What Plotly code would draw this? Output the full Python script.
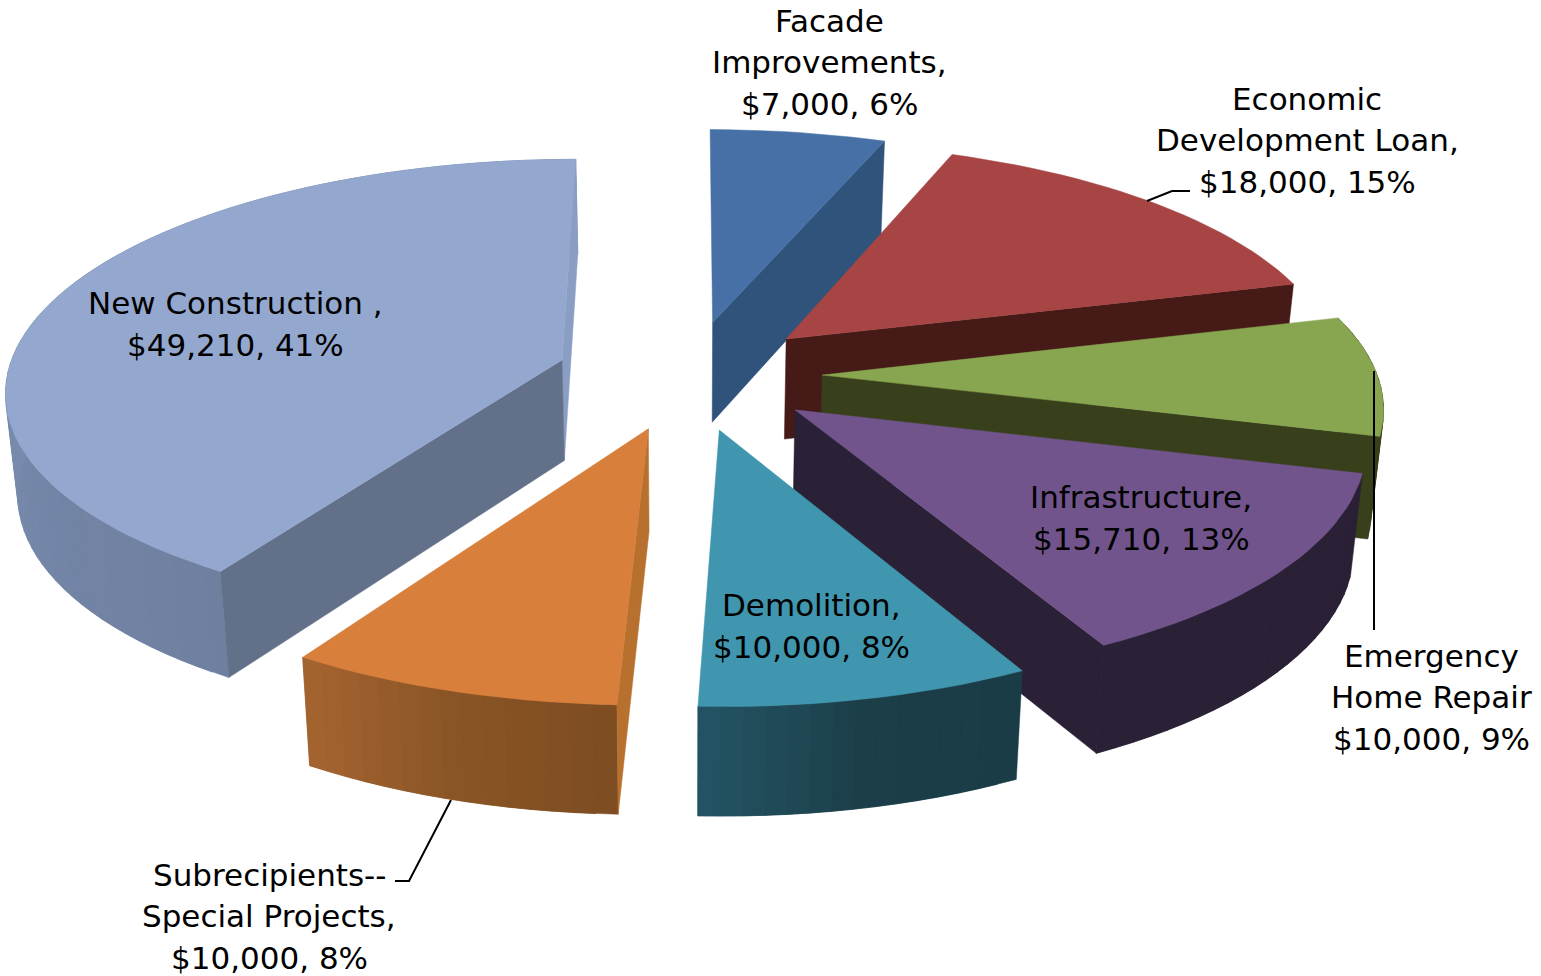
import math
import plotly.graph_objects as go

# ---- data ----
categories = ["Facade Improvements", "Economic Development Loan", "Emergency Home Repair",
              "Infrastructure", "Demolition", "Subrecipients-- Special Projects", "New Construction"]
values = [7000, 18000, 10000, 15710, 10000, 10000, 49210]
label_lines = [
    ["Facade", "Improvements,", "$7,000, 6%"],
    ["Economic", "Development Loan,", "$18,000, 15%"],
    ["Emergency", "Home Repair", "$10,000, 9%"],
    ["Infrastructure,", "$15,710, 13%"],
    ["Demolition,", "$10,000, 8%"],
    ["Subrecipients--", "Special Projects,", "$10,000, 8%"],
    ["New Construction ,", "$49,210, 41%"],
]

# ---- styles ----
top_colors = ["#4670A6", "#A74444", "#88A550", "#72548C", "#4096AF", "#D77F3B", "#94A8CF"]
start_wall = [None, None, None, None, None, "#B8702F", "#627089"]
end_wall = ["#30537B", "#451A17", "#38401B", "#2B2136", None, None, "#8A9EC4"]
rim_stops = [
    None,
    None,
    ["#38401B", "#38401B"],
    ["#2B2136", "#2B2136"],
    ["#1A3C47", "#1B3E49", "#245564"],
    ["#7D4C22", "#8A5526", "#A56430"],
    ["#6F7F9F", "#7A90B2", "#8195B8"],
]
draw_order = [0, 6, 1, 2, 3, 5, 4]
label_xy = [(829, 62), (1307, 140), (1431, 697), (1141, 518), (811, 626), (269, 916), (235, 324)]
line_h = 41.5

# ---- projection of the tilted pie ----
CX, CY = 689, 375
A, B, K = 555, 228.4, 0.1215
EXPLODE = 0.24
DEPTH = 101
total = sum(values)


def proj(u, v, z=0.0):
    w = 1 + K * v
    sx = CX + A * u / w * (1 - 0.018 * z)
    sy = CY - B * v / w + DEPTH * z / math.sqrt(w)
    return sx, sy


def hex_mix(stops, t):
    t = max(0.0, min(1.0, t)) * (len(stops) - 1)
    i = min(int(t), len(stops) - 2)
    f = t - i
    a = [int(stops[i][j:j + 2], 16) for j in (1, 3, 5)]
    b = [int(stops[i + 1][j:j + 2], 16) for j in (1, 3, 5)]
    return "rgb(%d,%d,%d)" % tuple(round(p + (q - p) * f) for p, q in zip(a, b))


fig = go.Figure()


def poly(pts, color, name):
    xs = [p[0] for p in pts] + [pts[0][0]]
    ys = [p[1] for p in pts] + [pts[0][1]]
    fig.add_trace(go.Scatter(x=xs, y=ys, mode="lines", fill="toself", fillcolor=color,
                             line=dict(color=color, width=0.5), name=name,
                             showlegend=False, hoverinfo="name"))


spans = []
cum = 0.0
for val in values:
    spans.append((cum / total * 2 * math.pi, (cum + val) / total * 2 * math.pi))
    cum += val

for i in draw_order:
    a0, a1 = spans[i]
    mid = (a0 + a1) / 2
    ox, oy = EXPLODE * math.sin(mid), EXPLODE * math.cos(mid)
    n = max(4, int((a1 - a0) / math.radians(2)))
    ang = [a0 + (a1 - a0) * k / n for k in range(n + 1)]
    rim = [(ox + math.sin(t), oy + math.cos(t)) for t in ang]
    name = categories[i]

    # outer rim first; every band overlaps the next one so no seams show
    if rim_stops[i]:
        for k in range(n):
            e = min(k + 2, n)
            band = rim[k:e + 1]
            poly([proj(*p) for p in band] + [proj(*p, 1) for p in reversed(band)],
                 hex_mix(rim_stops[i], (k + 0.5) / n), name)
    if end_wall[i]:
        poly([proj(ox, oy), proj(*rim[-1]), proj(*rim[-1], 1), proj(ox, oy, 1)], end_wall[i], name)
    if start_wall[i]:
        poly([proj(ox, oy), proj(*rim[0]), proj(*rim[0], 1), proj(ox, oy, 1)], start_wall[i], name)
    poly([proj(ox, oy)] + [proj(*p) for p in rim], top_colors[i], name)

# leader lines
leaders = [
    ([1147, 1172, 1190], [201, 191, 191]),
    ([1374, 1374], [371, 630]),
    ([451, 409, 395], [800, 881, 881]),
]
for lx, ly in leaders:
    fig.add_trace(go.Scatter(x=lx, y=ly, mode="lines", line=dict(color="black", width=2),
                             showlegend=False, hoverinfo="skip"))

for lines, (lx, ly) in zip(label_lines, label_xy):
    for j, line in enumerate(lines):
        fig.add_annotation(x=lx, y=ly + (j - (len(lines) - 1) / 2) * line_h,
                           xref="x", yref="y", showarrow=False, text=line,
                           font=dict(family="DejaVu Sans", size=31, color="black"))

fig.update_layout(
    width=1541, height=976, margin=dict(l=0, r=0, t=0, b=0),
    paper_bgcolor="white", plot_bgcolor="white", showlegend=False,
    xaxis=dict(range=[0, 1541], visible=False, fixedrange=True),
    yaxis=dict(range=[976, 0], visible=False, fixedrange=True),
)
fig.write_html("out.html", post_script="document.body.style.margin='0';",
               config={"displayModeBar": False})
